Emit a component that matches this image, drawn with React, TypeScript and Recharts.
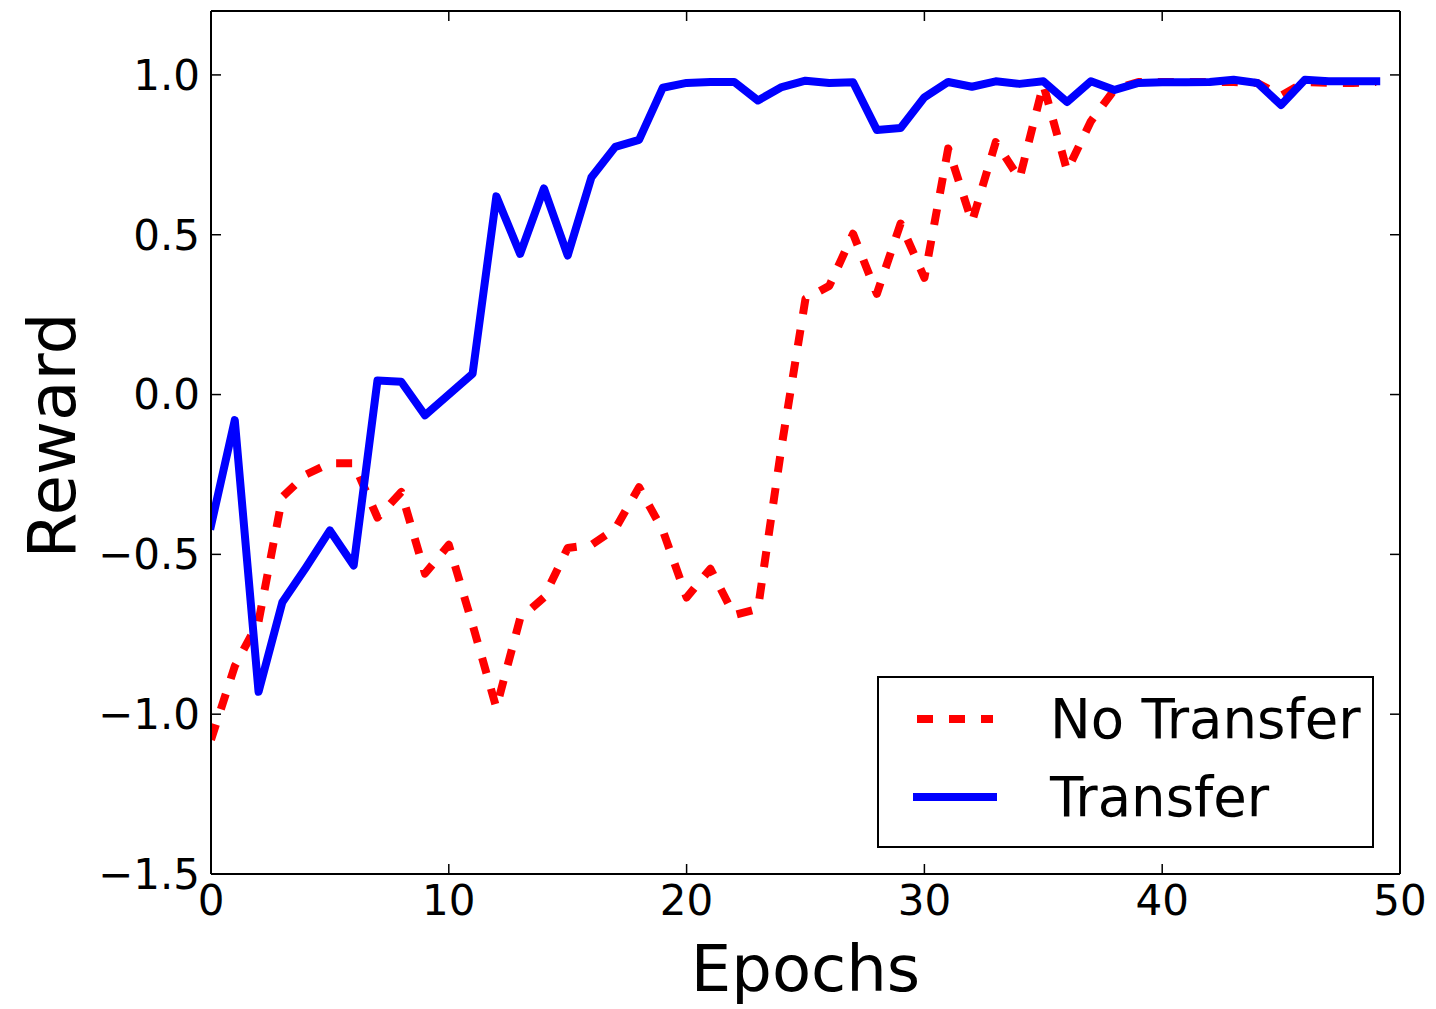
import { Legend, Line, LineChart, XAxis, YAxis } from 'recharts';

// training curves, one value per epoch
const epochs = [
    0, 1, 2, 3, 4, 5, 6, 7, 8, 9, 10, 11, 12, 13, 14, 15, 16, 17, 18, 19, 20,
    21, 22, 23, 24, 25, 26, 27, 28, 29, 30, 31, 32, 33, 34, 35, 36, 37, 38, 39,
    40, 41, 42, 43, 44, 45, 46, 47, 48, 49,
];

const noTransfer = [
    -1.08, -0.85, -0.71, -0.32, -0.25, -0.215, -0.215, -0.385, -0.305, -0.56,
    -0.47, -0.72, -0.98, -0.7, -0.635, -0.48, -0.47, -0.42, -0.29, -0.425,
    -0.635, -0.545, -0.69, -0.67, -0.16, 0.3, 0.34, 0.503, 0.315, 0.535,
    0.365, 0.77, 0.54, 0.79, 0.675, 0.97, 0.7, 0.855, 0.955, 0.978,
    0.978, 0.978, 0.978, 0.978, 0.975, 0.935, 0.978, 0.975, 0.975, 0.978,
];

const transfer = [
    -0.41, -0.08, -0.93, -0.65, -0.54, -0.425, -0.535, 0.044, 0.04, -0.065,
    0.0, 0.065, 0.62, 0.44, 0.645, 0.435, 0.68, 0.775, 0.797, 0.96,
    0.975, 0.978, 0.978, 0.92, 0.962, 0.982, 0.975, 0.977, 0.828, 0.834,
    0.93, 0.978, 0.963, 0.98, 0.972, 0.98, 0.915, 0.98, 0.953, 0.975,
    0.977, 0.977, 0.978, 0.985, 0.975, 0.906, 0.985, 0.98, 0.98, 0.98,
];

const xTicks = [0, 10, 20, 30, 40, 50];
const yTicks = [-1.5, -1.0, -0.5, 0.0, 0.5, 1.0];
const xDomain: [number, number] = [0, 50];
const yDomain: [number, number] = [-1.5, 1.2];

const rows = epochs.map((epoch, i) => ({
    epoch,
    noTransfer: noTransfer[i],
    transfer: transfer[i],
}));

const seriesStyle: Record<string, { color: string; dash?: string; cap: 'butt' | 'square' }> = {
    noTransfer: { color: '#ff0000', dash: '16 16', cap: 'butt' },
    transfer: { color: '#0000ff', cap: 'square' },
};

const fmt = (v: number) => (v < 0 ? '\u2212' : '') + Math.abs(v).toFixed(1);

const axisLine = { stroke: '#000', strokeWidth: 2 };
const tickLine = { stroke: '#000', strokeWidth: 1.5 };
const tickFont = { fontSize: 42, fill: '#000' };
// frame axes: tick marks only, no labels
const blankTick = () => <g />;

const YTitle = ({ viewBox }: any) => {
    const vb = viewBox ?? { x: 0, y: 11, width: 211, height: 863 };
    const cx = vb.x + 75;
    const cy = vb.y + vb.height / 2 - 7;
    return (
        <text
            x={cx}
            y={cy}
            transform={`rotate(-90 ${cx} ${cy})`}
            textAnchor="middle"
            fontSize={66}
            fill="#000"
        >
            Reward
        </text>
    );
};

const LegendBox = ({ payload }: any) => (
    <div
        style={{
            boxSizing: 'border-box',
            width: 497,
            height: 172,
            border: '2px solid #000',
            background: '#fff',
            position: 'relative',
        }}
    >
        {(payload ?? []).map((entry: any, i: number) => {
            const s = seriesStyle[entry.dataKey] ?? { color: entry.color, cap: 'butt' };
            return (
                <div
                    key={entry.dataKey}
                    style={{
                        position: 'absolute',
                        left: 0,
                        top: 2 + i * 78,
                        height: 78,
                        display: 'flex',
                        alignItems: 'center',
                    }}
                >
                    <svg width={171} height={20} style={{ display: 'block' }}>
                        <line
                            x1={38}
                            x2={114}
                            y1={10}
                            y2={10}
                            stroke={s.color}
                            strokeWidth={8}
                            strokeDasharray={s.dash}
                            strokeLinecap={s.cap}
                        />
                    </svg>
                    <span style={{ fontSize: 54.5, color: '#000', whiteSpace: 'nowrap' }}>
                        {entry.value}
                    </span>
                </div>
            );
        })}
    </div>
);

export default function App() {
    return (
        <div
            style={{
                position: 'absolute',
                left: 0,
                top: 0,
                width: 1436,
                height: 1009,
                background: '#fff',
                fontFamily: '"DejaVu Sans", sans-serif',
            }}
        >
            <LineChart
                width={1436}
                height={1009}
                data={rows}
                margin={{ top: 10, right: 35, bottom: 0, left: 0 }}
            >
                <XAxis
                    xAxisId="bottom"
                    dataKey="epoch"
                    type="number"
                    domain={xDomain}
                    allowDataOverflow
                    ticks={xTicks}
                    height={135}
                    tickSize={-10}
                    tickMargin={21}
                    axisLine={axisLine}
                    tickLine={tickLine}
                    tick={tickFont}
                    label={{
                        value: 'Epochs',
                        position: 'insideBottom',
                        offset: 18,
                        fontSize: 64,
                        fill: '#000',
                    }}
                />
                <XAxis
                    xAxisId="top"
                    dataKey="epoch"
                    type="number"
                    orientation="top"
                    domain={xDomain}
                    allowDataOverflow
                    ticks={xTicks}
                    height={1}
                    tickSize={-10}
                    axisLine={axisLine}
                    tickLine={tickLine}
                    tick={blankTick}
                />
                <YAxis
                    yAxisId="left"
                    type="number"
                    domain={yDomain}
                    allowDataOverflow
                    ticks={yTicks}
                    width={211}
                    tickSize={-10}
                    tickMargin={21}
                    tickFormatter={fmt}
                    axisLine={axisLine}
                    tickLine={tickLine}
                    tick={tickFont}
                    label={<YTitle />}
                />
                <YAxis
                    yAxisId="right"
                    orientation="right"
                    type="number"
                    domain={yDomain}
                    allowDataOverflow
                    ticks={yTicks}
                    width={1}
                    tickSize={-10}
                    axisLine={axisLine}
                    tickLine={tickLine}
                    tick={blankTick}
                />
                <Legend
                    layout="vertical"
                    align="center"
                    verticalAlign="middle"
                    content={<LegendBox />}
                    wrapperStyle={{ left: 877, top: 676, width: 497, height: 172 }}
                />
                <Line
                    xAxisId="bottom"
                    yAxisId="left"
                    dataKey="noTransfer"
                    name="No Transfer"
                    type="linear"
                    stroke="#ff0000"
                    strokeWidth={8}
                    strokeDasharray="16 16"
                    strokeLinejoin="round"
                    dot={false}
                    activeDot={false}
                    isAnimationActive={false}
                />
                {/* same scales as bottom/left, bound to top/right so those frame axes draw */}
                <Line
                    xAxisId="top"
                    yAxisId="right"
                    dataKey="transfer"
                    name="Transfer"
                    type="linear"
                    stroke="#0000ff"
                    strokeWidth={8}
                    strokeLinejoin="round"
                    strokeLinecap="square"
                    dot={false}
                    activeDot={false}
                    isAnimationActive={false}
                />
            </LineChart>
        </div>
    );
}
